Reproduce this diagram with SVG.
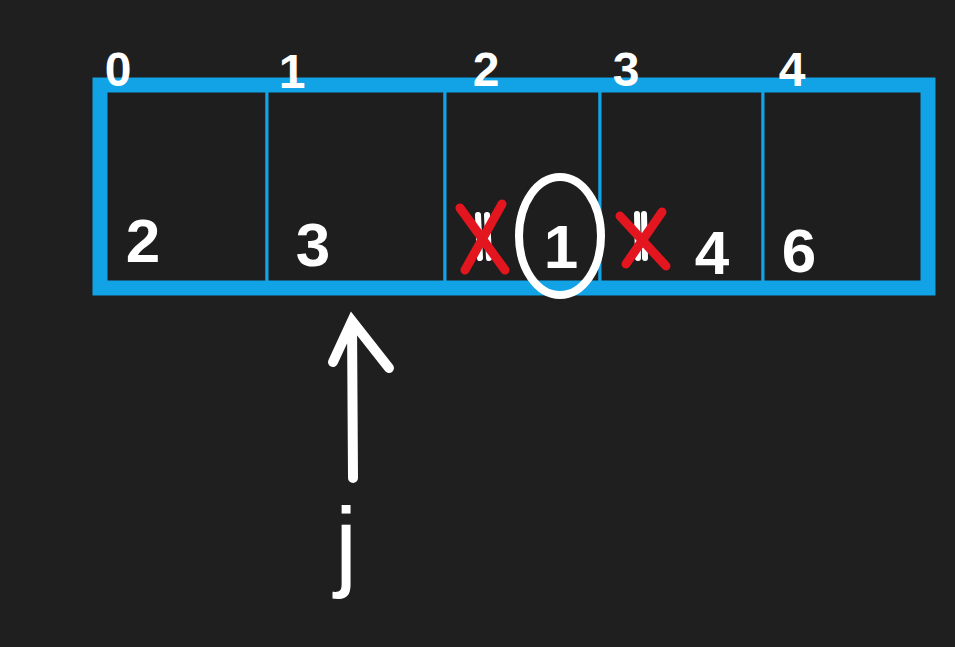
<svg xmlns="http://www.w3.org/2000/svg" width="955" height="647" viewBox="0 0 955 647">
<style>
.lbl{font-family:"Liberation Sans",Arial,sans-serif;font-weight:bold;fill:#ffffff;text-anchor:middle}
.idx{font-size:48px}
.val{font-size:62px}
.cell{fill:#1e1e1e;stroke:#12a2e6;stroke-width:3}
.x{stroke:#e3161f;stroke-width:9;stroke-linecap:round;fill:none}
.w{stroke:#ffffff;stroke-linecap:round;fill:none}
</style>
<rect width="955" height="647" fill="#1f1f1f"/>
<g id="array">
<rect x="99" y="84" width="830" height="205" fill="none" stroke="#12a2e6" stroke-width="13"/>
</g>
<g id="cell0"><rect class="cell" x="106" y="91" width="161" height="191"/><text class="lbl val" x="143" y="262">2</text><text class="lbl idx" x="118" y="86">0</text></g>
<g id="cell1"><rect class="cell" x="267" y="91" width="178" height="191"/><text class="lbl val" x="313" y="266">3</text><text class="lbl idx" x="292" y="88">1</text></g>
<g id="cell2"><rect class="cell" x="445" y="91" width="155" height="191"/><text class="lbl idx" x="486" y="86">2</text>
<path class="w" stroke-width="6" d="M478 215 L480 258 M487 215 L489 258"/>
<path class="x" d="M460 208 L505 270 M502 204 L465 270"/>
<text class="lbl val" x="561" y="268">1</text></g>
<g id="cell3"><rect class="cell" x="600" y="91" width="163" height="191"/><text class="lbl idx" x="626" y="86">3</text>
<path class="w" stroke-width="6" d="M637 214 L638 258 M644 214 L645 258"/>
<path class="x" d="M620 216 L666 266 M662 212 L626 264"/>
<text class="lbl val" x="712" y="274">4</text></g>
<g id="cell4"><rect class="cell" x="763" y="91" width="159" height="191"/><text class="lbl idx" x="792" y="86">4</text><text class="lbl val" x="799" y="272">6</text></g>
<g id="circle"><ellipse cx="560" cy="236" rx="41" ry="59" fill="none" stroke="#ffffff" stroke-width="8"/></g>
<g id="connectors">
<path class="w" stroke-width="10" d="M353 478 L352 322 M333 362 L352 321 L389 368"/>
</g>
<g id="pointer"><text class="lbl" x="346" y="578" style="font-size:100px;font-weight:normal">j</text></g>
</svg>
